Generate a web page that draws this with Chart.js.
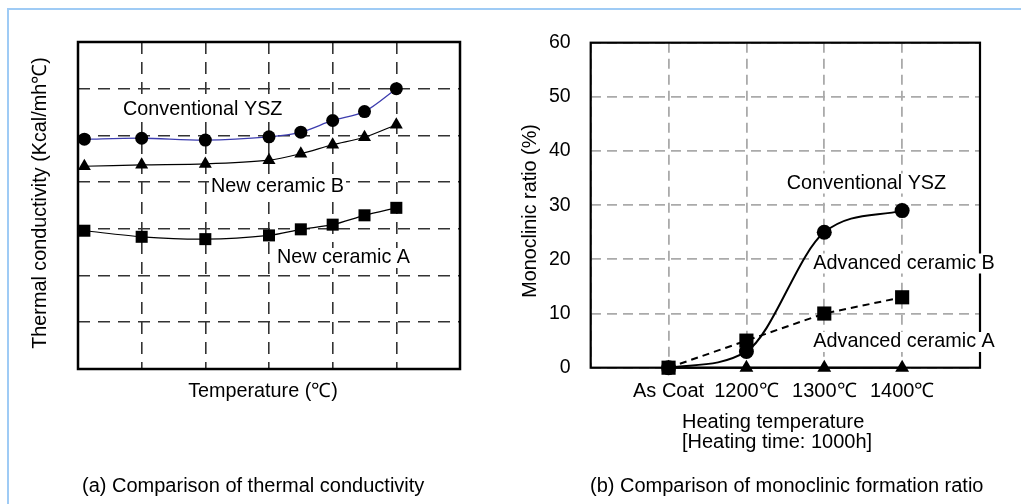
<!DOCTYPE html>
<html><head><meta charset="utf-8">
<script src="https://cdn.jsdelivr.net/npm/chart.js@4.4.1/dist/chart.umd.min.js"></script>
<style>
html,body{margin:0;padding:0;background:#fff;}
body{width:1021px;height:504px;position:relative;overflow:hidden;font-family:"Liberation Sans",Arial,sans-serif;}
#frame{position:absolute;left:7px;top:8px;width:1100px;height:600px;border-left:2px solid #9fcbf5;border-top:2px solid #9fcbf5;}
.box{position:absolute;top:0;height:504px;}
#boxA{left:0;width:500px;}
#boxB{left:500px;width:521px;}
.cap{position:absolute;top:473px;font-size:20px;line-height:24px;color:#000;white-space:nowrap;}
</style></head><body>
<div id="frame"></div>
<div class="box" id="boxA"><canvas id="cA"></canvas></div>
<div class="box" id="boxB"><canvas id="cB"></canvas></div>
<div class="cap" style="left:82px">(a) Comparison of thermal conductivity</div>
<div class="cap" style="left:590px">(b) Comparison of monoclinic formation ratio</div>
<script>
// ---- data: (a) thermal conductivity (arbitrary grid units, no tick labels in the original)
const tempPositions = [0.1, 1, 2, 3, 3.5, 4, 4.5, 5];
const yszConductivity = [4.92, 4.94, 4.90, 4.97, 5.07, 5.32, 5.51, 6.0];
const ceramicBConductivity = [4.34, 4.37, 4.39, 4.47, 4.61, 4.80, 4.96, 5.23];
const ceramicAConductivity = [2.96, 2.83, 2.78, 2.86, 2.99, 3.09, 3.29, 3.45];

// ---- data: (b) monoclinic formation ratio (%)
const heatCategories = ['As Coat', '1200℃', '1300℃', '1400℃'];
const yszMonoclinic = [0, 3, 25, 29];
const ceramicBMonoclinic = [0, 5, 10, 13];
const ceramicAMonoclinic = [0, 0, 0, 0];
const monoTickValues = [0, 10, 20, 30, 40, 50, 60];

const FONT = '"Liberation Sans", Arial, sans-serif';

function frameBox(width) {
  return {
    id: 'frameBox',
    beforeDatasetsDraw(chart) {
      const {ctx, chartArea: a} = chart;
      ctx.save();
      ctx.strokeStyle = '#000';
      ctx.lineWidth = width;
      ctx.setLineDash([]);
      ctx.strokeRect(a.left, a.top, a.right - a.left, a.bottom - a.top);
      ctx.restore();
    }
  };
}
function textPlugin(items) {
  return {
    id: 'texts',
    afterDraw(chart) {
      const ctx = chart.ctx;
      for (const it of items) {
        ctx.save();
        ctx.font = (it.size || 19.8) + 'px ' + FONT;
        ctx.textBaseline = 'middle';
        const align = it.align || 'left';
        ctx.textAlign = align;
        ctx.translate(it.x, it.y);
        if (it.rotate) ctx.rotate(it.rotate);
        if (it.bg) {
          const w = ctx.measureText(it.text).width;
          const x0 = align === 'center' ? -w / 2 : 0;
          ctx.fillStyle = '#fff';
          ctx.fillRect(x0 - 2, -10, w + 4, 20);
        }
        ctx.fillStyle = '#000';
        ctx.fillText(it.text, 0, 0);
        ctx.restore();
      }
    }
  };
}
const toXY = (xs, ys) => xs.map((x, i) => ({x: x, y: ys[i]}));

// ---------------- Chart (a)
const gridA = {color: '#333', lineWidth: 1.6, drawTicks: false};
const borderA = {display: false, dash: [12, 8]};
new Chart(document.getElementById('cA'), {
  type: 'line',
  data: {
    datasets: [
      {label: 'Conventional YSZ', data: toXY(tempPositions, yszConductivity),
       borderColor: '#3c3cae', borderWidth: 1.3, pointStyle: 'circle', pointRadius: 6.5,
       pointBackgroundColor: '#000', pointBorderColor: '#000', pointBorderWidth: 0, tension: 0.3, clip: false},
      {label: 'New ceramic B', data: toXY(tempPositions, ceramicBConductivity),
       borderColor: '#000', borderWidth: 1.2, pointStyle: 'triangle', pointRadius: 7.5,
       pointBackgroundColor: '#000', pointBorderColor: '#000', pointBorderWidth: 0, tension: 0.3, clip: false},
      {label: 'New ceramic A', data: toXY(tempPositions, ceramicAConductivity),
       borderColor: '#000', borderWidth: 1.2, pointStyle: 'rect', pointRadius: 8.5,
       pointBackgroundColor: '#000', pointBorderColor: '#000', pointBorderWidth: 0, tension: 0.3, clip: false}
    ]
  },
  options: {
    responsive: true, maintainAspectRatio: false, animation: false,
    layout: {padding: {left: 78, top: 42, right: 40, bottom: 135}},
    plugins: {legend: {display: false}, tooltip: {enabled: false}},
    scales: {
      x: {type: 'linear', min: 0, max: 6, ticks: {display: false, stepSize: 1},
          grid: gridA, border: borderA, afterFit(s) { s.height = 0; }},
      y: {type: 'linear', min: 0, max: 7, ticks: {display: false, stepSize: 1},
          grid: gridA, border: borderA, afterFit(s) { s.width = 0; }}
    }
  },
  plugins: [frameBox(2.5), textPlugin([
    {text: 'Conventional YSZ', x: 123, y: 110, bg: true},
    {text: 'New ceramic B', x: 211, y: 187, bg: true},
    {text: 'New ceramic A', x: 277, y: 258, bg: true},
    {text: 'Thermal conductivity (Kcal/mh℃)', x: 41, y: 203, align: 'center', rotate: -Math.PI / 2},
    {text: 'Temperature (℃)', x: 263, y: 392, align: 'center'}
  ])]
});

// ---------------- Chart (b)
const gridB = {color: '#aaa', lineWidth: 1.8, drawTicks: false};
const borderB = {display: false, dash: [10, 6]};
const catX = heatCategories.map((c, i) => i + 1);
new Chart(document.getElementById('cB'), {
  type: 'line',
  data: {
    datasets: [
      {label: 'Advanced ceramic B', data: toXY(catX, ceramicBMonoclinic),
       borderColor: '#000', borderWidth: 2, borderDash: [7, 5], pointStyle: 'rect', pointRadius: 10,
       pointBackgroundColor: '#000', pointBorderColor: '#000', pointBorderWidth: 0, tension: 0, clip: false},
      {label: 'Conventional YSZ', data: toXY(catX, yszMonoclinic),
       borderColor: '#000', borderWidth: 2, pointStyle: 'circle', pointRadius: 7.5,
       pointBackgroundColor: '#000', pointBorderColor: '#000', pointBorderWidth: 0,
       cubicInterpolationMode: 'monotone', clip: false},
      {label: 'Advanced ceramic A', data: toXY(catX, ceramicAMonoclinic),
       borderColor: '#000', borderWidth: 2, pointStyle: 'triangle', pointRadius: 8,
       pointBackgroundColor: '#000', pointBorderColor: '#000', pointBorderWidth: 0, tension: 0, clip: false}
    ]
  },
  options: {
    responsive: true, maintainAspectRatio: false, animation: false,
    layout: {padding: {left: 0, top: 42.7, right: 41, bottom: 96.3}},
    plugins: {legend: {display: false}, tooltip: {enabled: false}},
    scales: {
      x: {type: 'linear', min: 0, max: heatCategories.length + 1,
          afterBuildTicks(s) { s.ticks = [0].concat(catX, [heatCategories.length + 1]).map(v => ({value: v})); },
          ticks: {autoSkip: false, maxRotation: 0, padding: 12, color: '#000',
                  font: {family: FONT, size: 20},
                  callback: (v) => heatCategories[v - 1] || ''},
          grid: gridB, border: borderB, afterFit(s) { s.height = 40; }},
      y: {type: 'linear', min: monoTickValues[0], max: monoTickValues[monoTickValues.length - 1],
          afterBuildTicks(s) { s.ticks = monoTickValues.map(v => ({value: v})); },
          ticks: {padding: 20, color: '#000', font: {family: FONT, size: 19.5}},
          grid: gridB, border: borderB, afterFit(s) { s.width = 90.7; }}
    }
  },
  plugins: [frameBox(2.2), textPlugin([
    {text: 'Conventional YSZ', x: 286.7, y: 183.5, bg: true},
    {text: 'Advanced ceramic B', x: 313.3, y: 263.5, bg: true},
    {text: 'Advanced ceramic A', x: 313.3, y: 342, bg: true},
    {text: 'Monoclinic ratio (%)', x: 31, y: 211, align: 'center', rotate: -Math.PI / 2},
    {text: 'Heating temperature', x: 182, y: 422, size: 20},
    {text: '[Heating time: 1000h]', x: 182, y: 442, size: 20}
  ])]
});
</script>
</body></html>
